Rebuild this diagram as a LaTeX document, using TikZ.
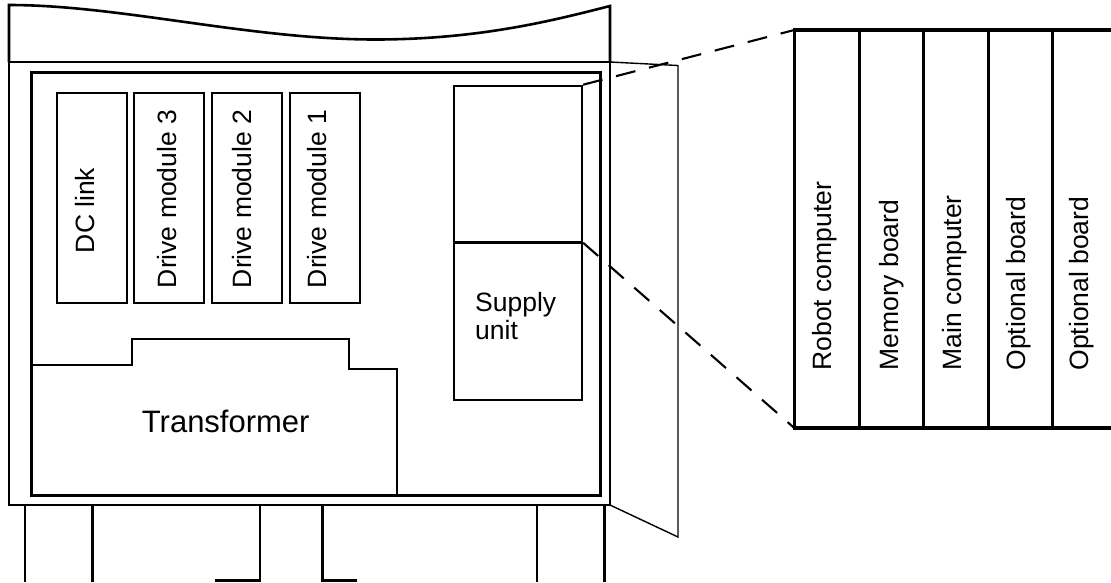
\documentclass[tikz,border=0pt]{standalone}
\usepackage{fontspec}
\setmainfont{Liberation Sans}
\begin{document}
\begin{tikzpicture}[x=1pt,y=-1pt,
  outerline/.style={line width=2.8pt},
  innerline/.style={line width=3pt},
  modline/.style={line width=2.1pt},
  thinline/.style={line width=1.4pt},
  panelline/.style={line width=3.1pt},
  legline/.style={line width=2.7pt},
  dashline/.style={line width=2.1pt, dash pattern=on 20pt off 14pt},
  lbl/.style={inner sep=0pt, font=\fontsize{26.5}{28}\selectfont},
  vlbl/.style={lbl, rotate=90, anchor=base west},
  line join=miter]

\useasboundingbox (0,0) rectangle (1111,582);

% top section with wavy cut
\draw[line width=2.6pt] (9,62) -- (9,5) .. controls (120,5) and (250,39.5) .. (375,39.5)
  .. controls (480,39.5) and (555,20) .. (610,6) -- (610,62);

% cabinet outer box
\draw[outerline] (9,62) rectangle (610,505);

% door
\draw[thinline] (610,62) -- (678,65.5) -- (678,537) -- (610,505);

% inner box
\draw[innerline] (31,72.7) rectangle (600,495);

% modules
\draw[modline] (56.7,93.3) rectangle (126.7,302.7);
\draw[modline] (134,93.3) rectangle (204,302.7);
\draw[modline] (212.3,93.3) rectangle (282.3,302.7);
\draw[modline] (290,93.3) rectangle (360,302.7);

\node[vlbl] (dclink) at (94.3,253.3) {DC link};
\node[vlbl] (dm3) at (176,288.3) {Drive module 3};
\node[vlbl] (dm2) at (251.7,288.3) {Drive module 2};
\node[vlbl] (dm1) at (326.7,288.3) {Drive module 1};

% transformer
\draw[modline] (31,365) -- (132,365) -- (132,338.7) -- (349.3,338.7) -- (349.3,368.7)
  -- (397,368.7) -- (397,495);
\node[inner sep=0pt, font=\fontsize{31}{33}\selectfont, anchor=base west] (transformer)
  at (141.7,432.7) {Transformer};

% supply unit
\node[draw, modline, minimum width=128.3pt, minimum height=314pt, inner sep=0pt,
  anchor=north west] (supply) at (452.7,84.7) {};
\draw[innerline] (supply.west) -- (supply.east);
\node[lbl, anchor=base west] (supplyA) at (475,311.7) {Supply};
\node[lbl, anchor=base west] (supplyB) at (475,339.3) {unit};

% computer panel
\coordinate (pnw) at (794.3,30);
\coordinate (psw) at (794.3,428);
\draw[panelline] (1111,30) -- (pnw) -- (psw) -- (1111,428);
\draw[panelline] (859.3,30) -- (859.3,428);
\draw[panelline] (923.3,30) -- (923.3,428);
\draw[panelline] (988.7,30) -- (988.7,428);
\draw[panelline] (1052.3,30) -- (1052.3,428);

\node[vlbl] (robot) at (831.7,370.7) {Robot computer};
\node[vlbl] (memory) at (898.3,370.7) {Memory board};
\node[vlbl] (maincomp) at (961.7,370.7) {Main computer};
\node[vlbl] (opt1) at (1025,370.7) {Optional board};
\node[vlbl] (opt2) at (1088.3,370.7) {Optional board};

% dashed projection lines
\draw[dashline] (supply.north east) -- (pnw);
\draw[dashline] (supply.east) -- (psw);

% legs
\draw[legline] (25,505) -- (25,582);
\draw[legline] (92.3,505) -- (92.3,582);
\draw[legline] (215,580.7) -- (260,580.7) -- (260,505);
\draw[legline] (322.7,505) -- (322.7,580.7) -- (357.3,580.7);
\draw[legline] (537,505) -- (537,582);
\draw[legline] (604.5,505) -- (604.5,582);
\end{tikzpicture}
\end{document}
